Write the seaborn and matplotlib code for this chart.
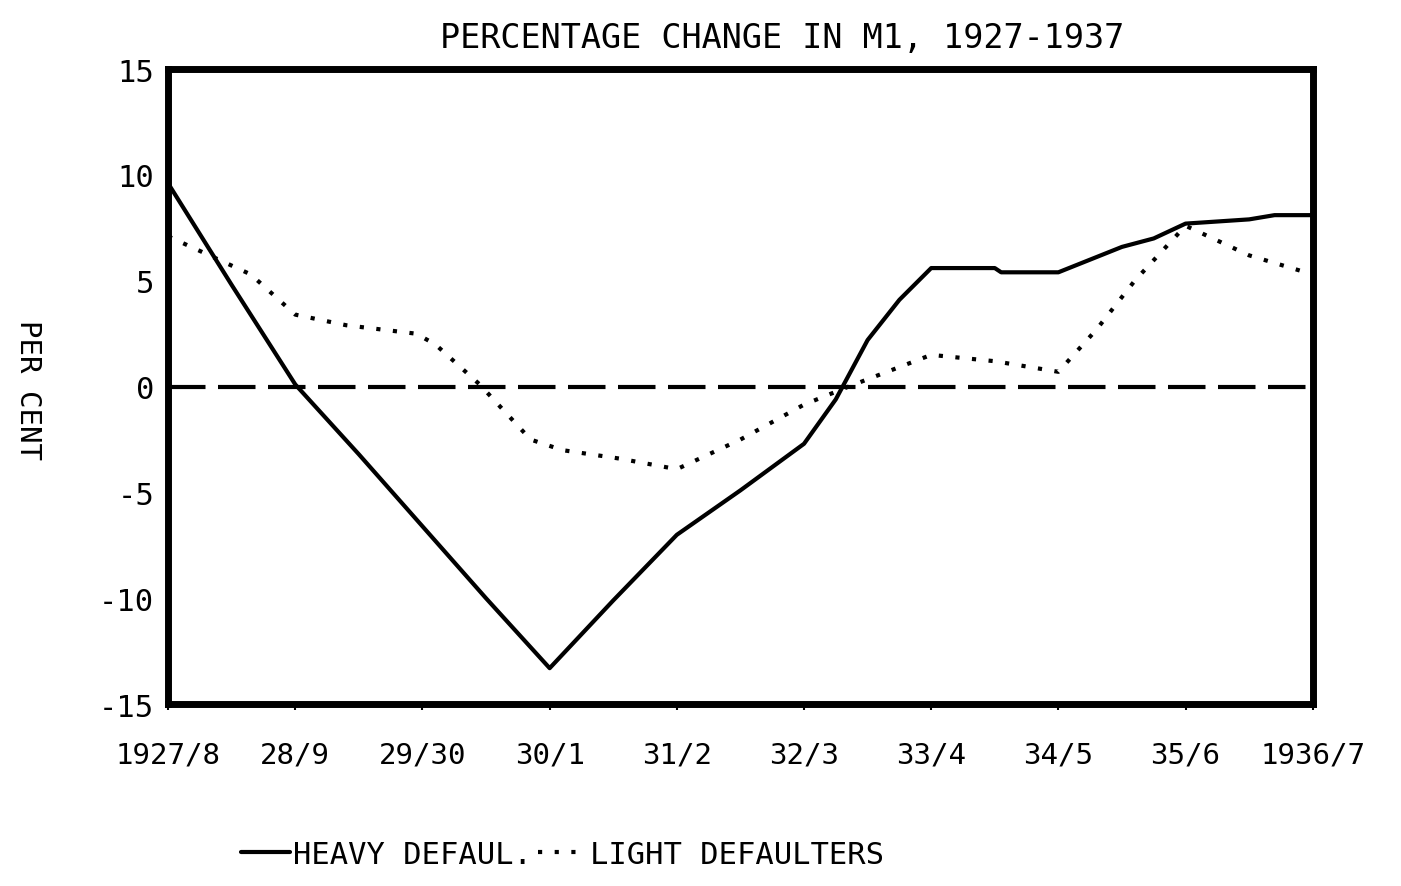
import matplotlib
matplotlib.use('Agg')
import matplotlib.pyplot as plt
import seaborn as sns
import numpy as np
import pandas as pd

# fiscal year labels on the x axis
YEAR_LABELS = ["1927/8", "28/9", "29/30", "30/1", "31/2", "32/3",
               "33/4", "34/5", "35/6", "1936/7"]

# heavy defaulters (solid line), x in fiscal-year index units
heavy_x = [0.0, 0.5, 1.0, 1.5, 2.0, 2.5, 3.0, 3.5, 4.0, 4.5, 5.0, 5.25, 5.5,
           5.75, 6.0, 6.5, 6.55, 7.0, 7.25, 7.5, 7.75, 8.0, 8.5, 8.7, 9.0]
heavy_y = [9.6, 4.8, 0.1, -3.2, -6.6, -10.0, -13.3, -10.1, -7.0, -4.9, -2.7,
           -0.6, 2.2, 4.1, 5.6, 5.6, 5.4, 5.4, 6.0, 6.6, 7.0, 7.7, 7.9, 8.1, 8.1]

# light defaulters (dotted line)
light_x = [0.0, 0.65, 1.0, 1.4, 1.95, 2.1, 2.45, 2.85, 3.1, 3.55, 4.0, 4.5,
           5.0, 5.35, 6.0, 6.5, 7.0, 7.3, 7.6, 8.0, 8.5, 9.0]
light_y = [7.1, 5.3, 3.4, 2.9, 2.5, 2.0, 0.1, -2.5, -3.0, -3.4, -3.9, -2.5,
           -0.85, 0.0, 1.5, 1.2, 0.7, 2.7, 5.0, 7.6, 6.2, 5.3]

heavy = pd.DataFrame({"x": heavy_x, "y": heavy_y})
light = pd.DataFrame({"x": light_x, "y": light_y})

sns.set_style("white")
plt.rcParams['font.family'] = ['DejaVu Sans Mono', 'DejaVu Sans']
plt.rcParams['text.color'] = 'black'
plt.rcParams['xtick.color'] = 'black'
plt.rcParams['ytick.color'] = 'black'

fig = plt.figure(figsize=(14.01, 8.87), dpi=100)
ax = fig.add_axes([0.12, 0.205, 0.817, 0.716])

sns.lineplot(data=heavy, x="x", y="y", ax=ax, color="black", lw=3,
             label="HEAVY DEFAUL.")
sns.lineplot(data=light, x="x", y="y", ax=ax, color="black", lw=3,
             linestyle=(0, (1, 3)), label="LIGHT DEFAULTERS")
ax.axhline(0, color="black", lw=3, linestyle=(0, (9, 3)))

ax.set_xlim(0, 9)
ax.set_ylim(-15, 15)
ax.set_yticks([15, 10, 5, 0, -5, -10, -15])
ax.set_yticklabels(["15", "10", "5", "0", "-5", "-10", "-15"], fontsize=22)
ax.set_xticks(range(len(YEAR_LABELS)))
ax.set_xticklabels(YEAR_LABELS, fontsize=21)
ax.tick_params(axis='x', length=4, width=1.5, pad=22, bottom=True)
ax.tick_params(axis='y', length=0, pad=10)
ax.set_xlabel("")
ax.set_ylabel("")

for side in ['top', 'bottom', 'left', 'right']:
    ax.spines[side].set_color('black')
    ax.spines[side].set_linewidth(5)

ax.set_title("PERCENTAGE CHANGE IN M1, 1927-1937", fontsize=24, pad=16,
             x=0.536)
fig.text(0.02, 0.56, "PER CENT", rotation=-90, fontsize=21,
         ha='center', va='center')

ax.legend(loc='upper left', bbox_to_anchor=(0.04, -0.17), ncol=2,
          frameon=False, fontsize=22, handlelength=1.6, handletextpad=0.1,
          columnspacing=0.2)

plt.savefig("out.png", dpi=100)
plt.close()
